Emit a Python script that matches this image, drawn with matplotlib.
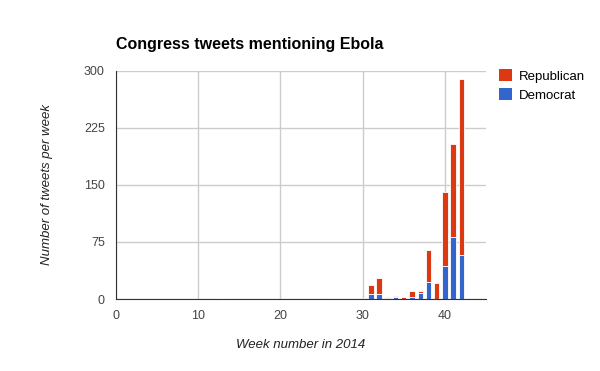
import matplotlib
matplotlib.use("Agg")
import matplotlib.pyplot as plt
import numpy as np

plt.rcParams["font.family"] = ["Liberation Sans", "DejaVu Sans"]

weeks = list(range(1, 43))
democrat = [0] * 42
republican = [0] * 42
# small one-off mentions early in the year
democrat[13 - 1] = 1
republican[17 - 1] = 1
republican[25 - 1] = 1
republican[30 - 1] = 1
# weeks 31-42
dem_late = [7, 7, 1, 3, 0, 3, 8, 23, 0, 43, 81, 58]
rep_late = [11, 20, 2, 1, 2, 7, 3, 41, 21, 98, 123, 231]
democrat[30:] = dem_late
republican[30:] = rep_late

RED = "#dc3912"
BLUE = "#3366cc"

fig = plt.figure(figsize=(6, 3.71), dpi=100)
ax = fig.add_axes([116 / 600, 1 - 299 / 371, 370 / 600, 228 / 371])

ax.bar(weeks, democrat, width=0.64, color=BLUE, edgecolor="white", linewidth=0.6, label="Democrat")
ax.bar(weeks, republican, width=0.64, bottom=democrat, color=RED, edgecolor="white",
       linewidth=0.6, label="Republican")

ax.set_xlim(0, 45)
ax.set_ylim(0, 300)
ax.set_xticks([0, 10, 20, 30, 40])
ax.set_yticks([0, 75, 150, 225, 300])
ax.grid(True, color="#cccccc", linewidth=1)
ax.set_axisbelow(True)
for s in ["top", "right"]:
    ax.spines[s].set_visible(False)
ax.spines["bottom"].set_color("#333333")
ax.spines["left"].set_color("#333333")
ax.tick_params(length=0, labelsize=9, colors="#444444", pad=8)

ax.set_xlabel("Week number in 2014", fontsize=9.5, style="italic", color="#222222", labelpad=12)
ax.set_ylabel("Number of tweets per week", fontsize=9.5, style="italic", color="#222222", labelpad=22)
fig.text(116 / 600, 1 - 45 / 371, "Congress tweets mentioning Ebola", fontsize=11.5,
         fontweight="bold", va="center", ha="left")

handles, labels = ax.get_legend_handles_labels()
leg = fig.legend(handles[::-1], labels[::-1], loc="upper left", bbox_to_anchor=(494 / 600, 1 - 64 / 371),
                 frameon=False, fontsize=9.5, handlelength=0.95, handleheight=0.95,
                 handletextpad=0.5, labelspacing=0.45, borderaxespad=0)
for h in leg.legend_handles:
    h.set_edgecolor("none")

fig.savefig("out.png", dpi=100)
